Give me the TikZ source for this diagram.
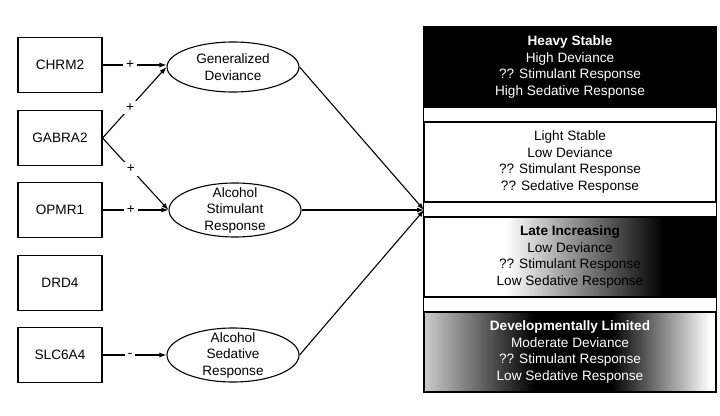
\documentclass[tikz,border=0pt]{standalone}
\usepackage{fontspec}
\setmainfont{Liberation Sans}
\usetikzlibrary{shapes.geometric,arrows.meta}
\pgfdeclarehorizontalshading{lateinc}{100bp}{color(0bp)=(white); color(39bp)=(white); color(66bp)=(black); color(100bp)=(black)}
\pgfdeclarehorizontalshading{devlim}{100bp}{color(0bp)=(black!20); color(25bp)=(black!20); color(44bp)=(black); color(57bp)=(black); color(74bp)=(white); color(100bp)=(white)}
\begin{document}
\begin{tikzpicture}[>={Latex[length=7pt,width=5pt]}, x=1pt, y=-1pt,
  font=\fontsize{13.6}{16.5}\selectfont, line width=1.1pt,
  gene/.style={draw, minimum width=84pt, minimum height=55pt, inner sep=0pt},
  latent/.style={draw, ellipse, minimum width=132pt, minimum height=54pt, inner xsep=0pt, inner ysep=-4pt, align=center},
  cls/.style={draw, minimum width=292pt, minimum height=80pt, inner sep=0pt, align=center},
  sign/.style={fill=white, inner sep=3pt, pos=.43}]
\useasboundingbox (0,0) rectangle (720,415);
% genes
\node[gene] (chrm) at (60,65) {CHRM2};
\node[gene] (gabra) at (60,138) {GABRA2};
\node[gene] (opmr) at (60,210) {OPMR1};
\node[gene] (drd) at (60,283) {DRD4};
\node[gene] (slc) at (60,355) {SLC6A4};
% latent factors
\node[latent, minimum height=50pt] (gd) at (233,67) {Generalized\\Deviance};
\node[latent] (stim) at (235,210) {Alcohol\\Stimulant\\Response};
\node[latent] (sed) at (233,355) {Alcohol\\Sedative\\Response};
% trajectory classes
\node[cls, fill=black, text=white] (hs) at (570,67) {\textbf{Heavy Stable}\\High Deviance\\?? Stimulant Response\\High Sedative Response};
\node[cls] (ls) at (570,162) {Light Stable\\Low Deviance\\?? Stimulant Response\\?? Sedative Response};
\node[cls, shading=lateinc] (li) at (570,257) {\textbf{Late Increasing}\\Low Deviance\\?? Stimulant Response\\Low Sedative Response};
\node[cls, shading=devlim, text=white] (dl) at (570,352) {\textbf{Developmentally Limited}\\Moderate Deviance\\?? Stimulant Response\\Low Sedative Response};
\draw (hs.north west) rectangle (dl.south east);
\coordinate (tgt) at (424,210);
% paths
\draw[->] (chrm.east)--node[sign]{+}(chrm.east -| gd.west);
\draw[->] (gabra.east)--node[sign]{+}(gd.west);
\draw[->] (gabra.east)--node[sign]{+}(stim.west);
\draw[->] (opmr.east)--node[sign]{+}(stim.west);
\draw[->] (slc.east)--node[sign]{-}(sed.west);
\foreach \n in {gd,stim,sed} \draw[->] (\n.east)--(tgt);
\end{tikzpicture}
\end{document}
